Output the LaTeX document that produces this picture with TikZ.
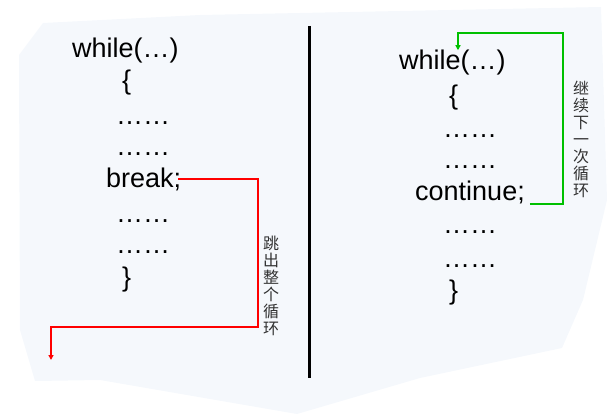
\documentclass[tikz,border=0pt]{standalone}
\usepackage{fontspec}
\setmainfont{Liberation Sans}
\newfontfamily\cjk{Noto Sans CJK SC}
\usetikzlibrary{arrows.meta}
\definecolor{bgfill}{RGB}{245,248,252}
\definecolor{brkred}{RGB}{255,0,0}
\definecolor{contgreen}{RGB}{0,192,0}
\definecolor{labelgray}{RGB}{50,50,50}
\tikzset{
  code/.style={anchor=base west, inner sep=0pt, font=\fontsize{27}{32}\selectfont},
  vlabel/.style={align=center, inner sep=0pt, text=labelgray, font=\cjk\fontsize{16}{17}\selectfont},
  jump/.style={line width=2pt, -{Triangle[length=5pt,width=5pt]}},
}
\begin{document}
\begin{tikzpicture}[x=1pt,y=-1pt]
\useasboundingbox (0,0) rectangle (609,417);
% background sheet
\fill[bgfill] (43,23) -- (200,15) -- (601,7) -- (607,200) -- (583,300) -- (562,348)
  -- (420,378) -- (297,414) -- (100,380) -- (35,381) -- (20,330) -- (19,55) -- cycle;
% divider
\draw[line width=3pt] (309,26) -- (309,378);
% left column
\node[code] (whl1) at (72,58) {while(…)};
\node[code] (lb1) at (122,90) {\{};
\node[code] (d11) at (116,124) {……};
\node[code] (d12) at (116,155) {……};
\node[code] (brk) at (106,187) {break;};
\node[code] (d13) at (116,222) {……};
\node[code] (d14) at (116,253) {……};
\node[code] (rb1) at (122,286) {\}};
% right column
\node[code] (whl2) at (399,70) {while(…)};
\node[code] (lb2) at (449,104) {\{};
\node[code] (d21) at (443,137) {……};
\node[code] (d22) at (443,168) {……};
\node[code] (cont) at (415,200) {continue;};
\node[code] (d23) at (443,233) {……};
\node[code] (d24) at (443,267) {……};
\node[code] (rb2) at (449,299) {\}};
% labels
\node[vlabel] (lblbrk) at (271,286) {跳\\出\\整\\个\\循\\环};
\node[vlabel] (lblcont) at (581,139) {继\\续\\下\\一\\次\\循\\环};
% connectors
\coordinate (r1) at (258,327);
\coordinate (r2) at (51,360);
\draw[jump, brkred] ([xshift=-3pt]brk.east) -| (r1) -| (r2);
\coordinate (g1) at (563,33);
\coordinate (g2) at (458,33);
\draw[jump, contgreen] ([xshift=5pt]cont.south east) -| (g1) -| (g2 |- whl2.north);
\end{tikzpicture}
\end{document}
